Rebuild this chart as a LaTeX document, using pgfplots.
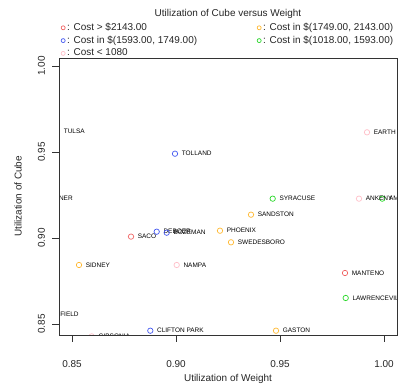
\documentclass[border=0pt]{standalone}
\usepackage{fontspec}
\setmainfont{Liberation Sans}
\usepackage{pgfplots}
\pgfplotsset{compat=1.18}

\definecolor{costRed}{RGB}{240,100,100}
\definecolor{costOrange}{RGB}{255,185,50}
\definecolor{costBlue}{RGB}{70,90,240}
\definecolor{costGreen}{RGB}{40,215,40}
\definecolor{costPink}{RGB}{255,190,200}

\newcommand{\labfont}{\fontsize{6.5}{7}\selectfont}
\newcommand{\mainfont}{\fontsize{10}{11}\selectfont}

% scales: 2080 bp per unit on x, 1719.96 bp per unit on y
\pgfplotsset{
  costmark/.style={only marks, mark=o, mark size=2.7bp,
    every mark/.append style={line width=0.7bp}},
}

\begin{document}
\begin{tikzpicture}[x=1bp,y=1bp]
% points and their names, on a wider range with the same scales
\begin{axis}[
  at={(-49.4bp,-23.392bp)}, anchor=south west,
  scale only axis, width=436.8bp, height=326.79bp,
  xmin=0.82, xmax=1.03, ymin=0.83, ymax=1.02,
  xtick=\empty, ytick=\empty, axis line style={draw=none}, clip=false,
  nodes near coords, point meta=explicit symbolic,
  every node near coord/.append style={anchor=west, inner sep=0pt, xshift=6.5bp, font=\labfont, text=black},
]
% Cost above 2143
\addplot[costmark, costRed] coordinates {
  (0.87837,0.9008) [SACO]
  (0.98125,0.87965) [MANTENO]
};
% Cost 1749 to 2143
\addplot[costmark, costOrange] coordinates {
  (0.84279,0.9622) [TULSA]
  (0.92115,0.90424) [PHOENIX]
  (0.92644,0.8975) [SWEDESBORO]
  (0.93606,0.91355) [SANDSTON]
  (0.85337,0.8843) [SIDNEY]
  (0.94808,0.8461) [GASTON]
};
% Cost 1593 to 1749
\addplot[costmark, costBlue] coordinates {
  (0.89952,0.9490) [TOLLAND]
  (0.89072,0.90366) [DEBOER]
  (0.89553,0.90308) [BOZEMAN]
  (0.88765,0.8461) [CLIFTON PARK]
};
% Cost 1018 to 1593
\addplot[costmark, costGreen] coordinates {
  (0.94649,0.92287) [SYRACUSE]
  (0.99918,0.92287) [AMES]
  (0.98159,0.86512) [LAWRENCEVILLE]
};
% Cost below 1080
\addplot[costmark, costPink] coordinates {
  (0.99183,0.96145) [EARTH]
  (0.98798,0.92287) [ANKENY]
  (0.90034,0.8843) [NAMPA]
  (0.85947,0.8428) [GIBSONIA]
  (0.83149,0.9233) [GARDNER]
  (0.82913,0.85564) [SPRINGFIELD]
};
\end{axis}

% blank out everything that falls outside the plot box
\fill[white, even odd rule] (-80,-80) rectangle (430,420) (0,0) rectangle (338,277);

% frame, ticks, titles and legend
\begin{axis}[
  at={(0bp,0bp)}, anchor=south west,
  scale only axis, width=338bp, height=277bp,
  xmin=0.84375, xmax=1.00625, ymin=0.8436, ymax=1.00465,
  xtick={0.85,0.90,0.95,1.00}, ytick={0.85,0.90,0.95,1.00},
  xticklabels={0.85,0.90,0.95,1.00}, yticklabels={0.85,0.90,0.95,1.00},
  xtick pos=bottom, ytick pos=left,
  tick align=outside, major tick length=6.5bp,
  tick style={black!80, line width=0.6bp},
  axis line style={black!80, line width=0.7bp},
  ticklabel style={font=\mainfont, text=black!85},
  xticklabel style={anchor=center, yshift=-23bp},
  yticklabel style={anchor=center, xshift=-11bp, rotate=90},
  xlabel={Utilization of Weight}, ylabel={Utilization of Cube},
  label style={font=\mainfont, text=black!85},
  xlabel style={at={(axis description cs:0.5,-0.16)}, anchor=center},
  ylabel style={at={(axis description cs:-0.1213,0.5)}, anchor=center},
  extra description/.code={
    \node[font=\mainfont, text=black!85, anchor=center, inner sep=0pt]
      at (0.5,1.1588) {Utilization of Cube versus Weight};
  },
  legend columns=2,
  legend cell align=left,
  legend image code/.code={\draw[#1, mark size=2bp] plot coordinates {(0bp,0bp)};},
  legend style={at={(axis description cs:-0.003,1.135)}, anchor=north west,
    draw=none, fill=none, font=\mainfont, text=black!85, row sep=2.8bp,
    nodes={inner xsep=1bp, inner ysep=0pt, text height=7.5bp, text depth=2.5bp},
    /tikz/every odd column/.style={column sep=1bp}},
]
\addlegendimage{costmark, costRed}
\addlegendentry{\makebox[189bp][l]{: Cost > \$2143.00}}
\addlegendimage{costmark, costOrange}
\addlegendentry{: Cost in \$(1749.00, 2143.00)}
\addlegendimage{costmark, costBlue}
\addlegendentry{\makebox[189bp][l]{: Cost in \$(1593.00, 1749.00)}}
\addlegendimage{costmark, costGreen}
\addlegendentry{: Cost in \$(1018.00, 1593.00)}
\addlegendimage{costmark, costPink}
\addlegendentry{\makebox[189bp][l]{: Cost < 1080}}
\end{axis}
% page frame: 410 x 392 with the plot box 59 from the left and 57 from the bottom
\pgfresetboundingbox
\path[use as bounding box] (-59,-57) rectangle (351,335);
\end{tikzpicture}
\end{document}
